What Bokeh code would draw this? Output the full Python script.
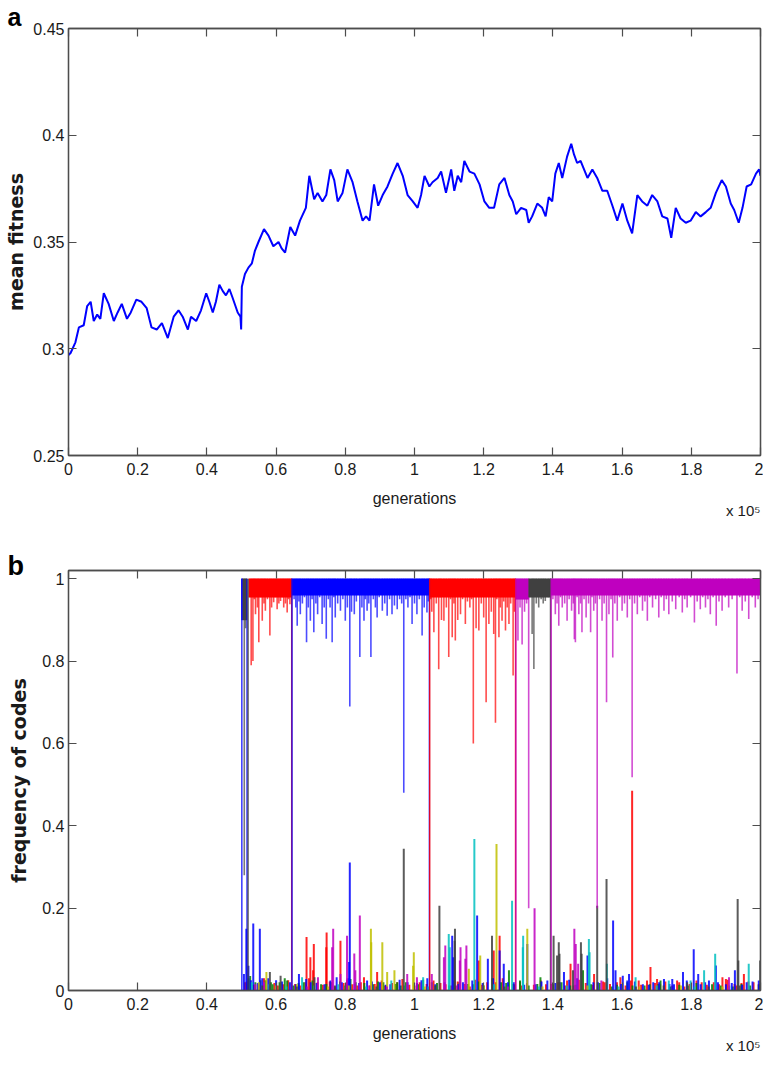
from bokeh.plotting import figure
from bokeh.layouts import column
from bokeh.models import (ColumnDataSource, LinearAxis, FixedTicker,
                          CustomJSTickFormatter, Range1d, Title)
from bokeh.embed import file_html
from bokeh.resources import INLINE

# ---------------- panel a: mean fitness (generations in units of 1e5) -------------
gen_a = [0.000, 0.006, 0.020, 0.030, 0.044, 0.054, 0.064, 0.073, 0.083, 0.092,
         0.102, 0.116, 0.131, 0.142, 0.154, 0.169, 0.180, 0.196, 0.211, 0.226,
         0.240, 0.255, 0.270, 0.287, 0.304, 0.318, 0.330, 0.345, 0.354, 0.369,
         0.383, 0.398, 0.407, 0.417, 0.426, 0.436, 0.446, 0.455, 0.465, 0.474,
         0.489, 0.497, 0.499, 0.501, 0.510, 0.520, 0.530, 0.539, 0.549, 0.565,
         0.578, 0.592, 0.607, 0.616, 0.626, 0.641, 0.655, 0.669, 0.686, 0.696,
         0.710, 0.720, 0.734, 0.745, 0.757, 0.768, 0.778, 0.792, 0.806, 0.821,
         0.835, 0.850, 0.860, 0.870, 0.883, 0.895, 0.908, 0.922, 0.937, 0.951,
         0.966, 0.980, 0.995, 1.009, 1.019, 1.029, 1.043, 1.052, 1.067, 1.077,
         1.091, 1.106, 1.115, 1.125, 1.135, 1.144, 1.159, 1.173, 1.188, 1.202,
         1.216, 1.230, 1.245, 1.260, 1.274, 1.284, 1.294, 1.308, 1.323, 1.330,
         1.340, 1.355, 1.369, 1.379, 1.388, 1.398, 1.407, 1.417, 1.427, 1.441,
         1.453, 1.461, 1.470, 1.480, 1.500, 1.514, 1.528, 1.543, 1.557, 1.572,
         1.586, 1.601, 1.615, 1.629, 1.644, 1.658, 1.673, 1.687, 1.702, 1.716,
         1.731, 1.742, 1.755, 1.769, 1.784, 1.798, 1.813, 1.827, 1.842, 1.856,
         1.871, 1.888, 1.900, 1.914, 1.924, 1.937, 1.948, 1.960, 1.973, 1.987,
         1.996, 2.000]
fit_a = [0.297, 0.298, 0.303, 0.310, 0.311, 0.320, 0.322, 0.313, 0.316, 0.314,
         0.326, 0.321, 0.313, 0.317, 0.321, 0.314, 0.317, 0.323, 0.322, 0.319,
         0.310, 0.309, 0.312, 0.305, 0.315, 0.318, 0.315, 0.309, 0.315, 0.313,
         0.318, 0.326, 0.322, 0.317, 0.322, 0.330, 0.327, 0.325, 0.328, 0.324,
         0.317, 0.315, 0.309, 0.329, 0.335, 0.338, 0.340, 0.346, 0.350, 0.356,
         0.353, 0.348, 0.350, 0.347, 0.345, 0.357, 0.353, 0.360, 0.366, 0.381,
         0.370, 0.373, 0.369, 0.372, 0.384, 0.379, 0.369, 0.373, 0.384, 0.378,
         0.369, 0.360, 0.362, 0.360, 0.377, 0.367, 0.372, 0.376, 0.382, 0.387,
         0.381, 0.372, 0.369, 0.366, 0.372, 0.381, 0.376, 0.378, 0.380, 0.383,
         0.373, 0.384, 0.374, 0.381, 0.378, 0.388, 0.383, 0.382, 0.377, 0.369,
         0.366, 0.366, 0.377, 0.380, 0.372, 0.369, 0.363, 0.366, 0.365, 0.359,
         0.362, 0.368, 0.366, 0.362, 0.371, 0.369, 0.382, 0.387, 0.380, 0.390,
         0.396, 0.391, 0.387, 0.388, 0.380, 0.384, 0.380, 0.374, 0.374, 0.367,
         0.360, 0.368, 0.360, 0.354, 0.372, 0.369, 0.367, 0.372, 0.369, 0.362,
         0.361, 0.352, 0.366, 0.361, 0.359, 0.360, 0.364, 0.362, 0.364, 0.366,
         0.373, 0.379, 0.376, 0.368, 0.365, 0.359, 0.366, 0.376, 0.377, 0.382,
         0.384, 0.381]

# ---------------- ticks ----------------
x_tick_values = [0, 0.2, 0.4, 0.6, 0.8, 1, 1.2, 1.4, 1.6, 1.8, 2]
x_tick_labels = ["0", "0.2", "0.4", "0.6", "0.8", "1", "1.2", "1.4", "1.6", "1.8", "2"]
ya_tick_values = [0.25, 0.3, 0.35, 0.4, 0.45]
ya_tick_labels = ["0.25", "0.3", "0.35", "0.4", "0.45"]
yb_tick_values = [0, 0.2, 0.4, 0.6, 0.8, 1]
yb_tick_labels = ["0", "0.2", "0.4", "0.6", "0.8", "1"]

# ---------------- panel b: frequency of codes ----------------
# periods in which one code dominates (frequency close to 1)
dom_start = [0.500, 0.503, 0.521, 0.645, 1.043, 1.292, 1.330, 1.394]
dom_end   = [0.503, 0.516, 0.645, 1.043, 1.292, 1.330, 1.394, 2.000]
dom_code  = ["blue", "black", "red", "blue", "red", "magenta", "black", "magenta"]
dom_floor = [0.90, 0.90, 0.955, 0.96, 0.955, 0.95, 0.955, 0.96]

# takeovers: one code falls from 1 to 0 while another rises
trans_gen  = [0.501, 0.516, 0.519, 0.645, 0.646, 1.043, 1.044, 1.292, 1.293, 1.393, 1.395]
trans_code = ["blue", "blue", "black", "red", "blue", "blue", "red", "red", "magenta", "black", "magenta"]

# dips of the dominant code below 1
dip_red_gen = [0.528, 0.533, 0.5405, 0.550, 0.560, 0.569, 0.582, 0.593, 0.603, 0.613, 0.622, 0.632, 0.640,
               0.537, 0.546, 0.556, 0.565, 0.575, 0.587, 0.598, 0.608, 0.618, 0.627, 0.636,
               1.050, 1.056, 1.070, 1.078, 1.085, 1.099, 1.109, 1.118, 1.125, 1.133, 1.147, 1.160,
               1.170, 1.178, 1.186, 1.200, 1.207, 1.215, 1.222, 1.229, 1.234, 1.244, 1.253, 1.263,
               1.273, 1.285, 1.047, 1.063, 1.074, 1.092, 1.104, 1.114, 1.139, 1.153, 1.165, 1.193,
               1.238, 1.248, 1.258, 1.268, 1.278, 1.289]
dip_red_val = [0.79, 0.80, 0.914, 0.846, 0.898, 0.922, 0.862, 0.943, 0.926, 0.946, 0.93, 0.918, 0.938,
               0.95, 0.93, 0.955, 0.94, 0.95, 0.93, 0.955, 0.94, 0.955, 0.94, 0.95,
               0.92, 0.87, 0.78, 0.90, 0.898, 0.81, 0.858, 0.85, 0.90, 0.914, 0.89, 0.93,
               0.60, 0.88, 0.874, 0.906, 0.70, 0.89, 0.92, 0.866, 0.65, 0.858, 0.898, 0.874,
               0.89, 0.765, 0.95, 0.94, 0.955, 0.93, 0.95, 0.94, 0.95, 0.945, 0.95, 0.94,
               0.95, 0.93, 0.945, 0.93, 0.94, 0.92]
dip_blue_gen = [0.661, 0.670, 0.688, 0.699, 0.709, 0.720, 0.733, 0.745, 0.762, 0.771, 0.786, 0.800,
                0.813, 0.826, 0.842, 0.854, 0.863, 0.874, 0.892, 0.907, 0.921, 0.935, 0.950, 0.969,
                0.993, 1.007, 1.022, 1.036,
                0.652, 0.657, 0.666, 0.676, 0.682, 0.693, 0.704, 0.715, 0.726, 0.739, 0.751, 0.756,
                0.767, 0.778, 0.793, 0.806, 0.818, 0.832, 0.848, 0.858, 0.868, 0.881, 0.887, 0.898,
                0.914, 0.928, 0.942, 0.957, 0.963, 0.975, 0.981, 0.987, 1.000, 1.014, 1.028, 1.040]
dip_blue_val = [0.886, 0.914, 0.846, 0.898, 0.870, 0.914, 0.890, 0.854, 0.846, 0.906, 0.922, 0.898,
                0.69, 0.914, 0.81, 0.898, 0.922, 0.81, 0.906, 0.922, 0.910, 0.914, 0.926, 0.48,
                0.89, 0.914, 0.862, 0.918,
                0.95, 0.93, 0.945, 0.94, 0.955, 0.93, 0.95, 0.94, 0.955, 0.93, 0.95, 0.93,
                0.955, 0.94, 0.95, 0.93, 0.92, 0.945, 0.93, 0.95, 0.94, 0.95, 0.93, 0.955,
                0.94, 0.95, 0.935, 0.95, 0.94, 0.95, 0.93, 0.955, 0.94, 0.95, 0.93, 0.945]
dip_black_gen = [0.508, 0.512, 1.340, 1.345, 1.352, 1.359, 1.366, 1.372, 1.378, 1.387]
dip_black_val = [0.28, 0.88, 0.866, 0.781, 0.94, 0.93, 0.95, 0.94, 0.946, 0.955]
dip_magenta_gen = [1.299, 1.305, 1.311, 1.318, 1.324, 1.330,
                   1.407, 1.417, 1.427, 1.441, 1.454, 1.462, 1.465, 1.475, 1.484, 1.496, 1.509, 1.518,
                   1.528, 1.542, 1.555, 1.562, 1.573, 1.586, 1.600, 1.615, 1.629, 1.644, 1.659, 1.673,
                   1.688, 1.706, 1.721, 1.735, 1.755, 1.774, 1.788, 1.809, 1.826, 1.841, 1.855, 1.872,
                   1.889, 1.908, 1.932, 1.947, 1.966, 1.985,
                   1.400, 1.412, 1.422, 1.434, 1.447, 1.459, 1.470, 1.480, 1.490, 1.503, 1.513, 1.523,
                   1.535, 1.548, 1.568, 1.579, 1.593, 1.607, 1.622, 1.636, 1.651, 1.666, 1.680, 1.697,
                   1.713, 1.728, 1.745, 1.765, 1.781, 1.798, 1.817, 1.833, 1.848, 1.863, 1.880, 1.898,
                   1.918, 1.940, 1.956, 1.976, 1.993]
dip_magenta_val = [0.85, 0.93, 0.84, 0.92, 0.94, 0.20,
                   0.914, 0.886, 0.930, 0.898, 0.922, 0.853, 0.846, 0.914, 0.870, 0.906, 0.870, 0.922,
                   0.20, 0.898, 0.70, 0.914, 0.809, 0.898, 0.922, 0.906, 0.518, 0.914, 0.922, 0.898,
                   0.930, 0.906, 0.922, 0.914, 0.926, 0.918, 0.930, 0.894, 0.926, 0.930, 0.914, 0.886,
                   0.922, 0.930, 0.77, 0.922, 0.902, 0.930,
                   0.95, 0.94, 0.955, 0.94, 0.95, 0.94, 0.955, 0.94, 0.95, 0.94, 0.955, 0.94,
                   0.95, 0.94, 0.95, 0.94, 0.955, 0.94, 0.95, 0.94, 0.955, 0.945, 0.955, 0.95,
                   0.955, 0.95, 0.945, 0.955, 0.95, 0.955, 0.945, 0.955, 0.95, 0.955, 0.945, 0.955,
                   0.95, 0.955, 0.945, 0.955, 0.95]

# rare codes: spikes rising from 0
spk_blue_gen = [0.514, 0.534, 0.553, 0.666, 0.775, 0.811, 0.813, 0.863, 1.109, 1.112, 1.181, 1.212,
                1.246, 1.258, 1.326, 1.384, 1.432, 1.500, 1.574, 1.581, 1.602, 1.615, 1.620, 1.721,
                1.745, 1.776, 1.807, 1.820, 1.851, 1.871, 1.926, 1.995,
                0.520, 0.560, 0.600, 0.640, 0.700, 0.740, 0.790, 0.840, 0.900, 0.930, 0.980, 1.020,
                1.060, 1.140, 1.270, 1.350, 1.420, 1.470, 1.530, 1.660, 1.690, 1.750, 1.840, 1.900, 1.960,
                0.507, 0.527, 0.547, 0.577, 0.617, 0.657, 0.687, 0.717, 0.757, 0.807, 0.827, 0.877,
                0.917, 0.957, 1.007, 1.037, 1.087, 1.127, 1.167, 1.197, 1.227, 1.287, 1.317, 1.367,
                1.407, 1.447, 1.517, 1.557, 1.597, 1.637, 1.677, 1.707, 1.737, 1.787, 1.827, 1.877,
                1.917, 1.947, 1.977]
spk_blue_h = [0.15, 0.163, 0.150, 0.04, 0.032, 0.069, 0.311, 0.024, 0.133, 0.081, 0.182, 0.077,
              0.097, 0.065, 0.113, 0.024, 0.045, 0.085, 0.17, 0.049, 0.036, 0.024, 0.04, 0.028,
              0.028, 0.045, 0.10, 0.04, 0.024, 0.061, 0.049, 0.024,
              0.06, 0.03, 0.025, 0.02, 0.02, 0.015, 0.02, 0.018, 0.02, 0.015, 0.02, 0.025,
              0.015, 0.02, 0.02, 0.015, 0.02, 0.03, 0.02, 0.015, 0.02, 0.015, 0.02, 0.015, 0.02,
              0.04, 0.025, 0.018, 0.03, 0.022, 0.015, 0.028, 0.018, 0.024, 0.03, 0.016, 0.022,
              0.014, 0.026, 0.018, 0.03, 0.02, 0.016, 0.024, 0.018, 0.03, 0.02, 0.014, 0.022,
              0.018, 0.026, 0.02, 0.03, 0.016, 0.022, 0.014, 0.02, 0.016, 0.024, 0.015, 0.02,
              0.018, 0.014, 0.022]
spk_red_gen = [0.688, 0.699, 0.707, 0.709, 0.745, 0.746, 0.786, 0.854, 0.892, 1.186, 1.229, 1.246,
               1.441, 1.451, 1.519, 1.595, 1.629, 1.648, 1.672, 1.682, 1.701, 1.759, 1.890, 1.900, 1.952,
               0.510, 0.550, 0.580, 0.620, 0.670, 0.720, 0.770, 0.820, 0.870, 0.950, 1.000, 1.090,
               1.160, 1.210, 1.310, 1.380, 1.460, 1.550, 1.610, 1.710, 1.780, 1.830, 1.880, 1.930, 1.980,
               0.515, 0.535, 0.565, 0.595, 0.605, 0.635, 0.655, 0.685, 0.695, 0.735, 0.755, 0.795,
               0.805, 0.835, 0.845, 0.885, 0.905, 0.915, 0.935, 0.965, 0.985, 1.015, 1.035, 1.055,
               1.075, 1.105, 1.125, 1.145, 1.175, 1.195, 1.235, 1.255, 1.285, 1.305, 1.325, 1.345,
               1.365, 1.395, 1.415, 1.435, 1.475, 1.495, 1.515, 1.545, 1.565, 1.585, 1.625, 1.655,
               1.695, 1.725, 1.745, 1.765, 1.795, 1.815, 1.845, 1.865, 1.905, 1.925, 1.945, 1.965, 1.995]
spk_red_h = [0.13, 0.081, 0.049, 0.113, 0.105, 0.141, 0.121, 0.032, 0.045, 0.073, 0.097, 0.133,
             0.024, 0.065, 0.04, 0.032, 0.485, 0.024, 0.024, 0.057, 0.028, 0.024, 0.032, 0.028, 0.04,
             0.02, 0.015, 0.01, 0.015, 0.012, 0.02, 0.01, 0.015, 0.012, 0.02, 0.012, 0.015,
             0.01, 0.02, 0.012, 0.015, 0.012, 0.02, 0.012, 0.015, 0.01, 0.02, 0.015, 0.012, 0.02,
             0.022, 0.014, 0.03, 0.018, 0.012, 0.025, 0.016, 0.02, 0.03, 0.014, 0.022, 0.018,
             0.026, 0.012, 0.02, 0.016, 0.024, 0.012, 0.018, 0.028, 0.014, 0.02, 0.016, 0.024,
             0.018, 0.012, 0.022, 0.016, 0.026, 0.014, 0.02, 0.03, 0.016, 0.022, 0.018, 0.014,
             0.024, 0.016, 0.02, 0.012, 0.026, 0.018, 0.014, 0.022, 0.016, 0.02, 0.024, 0.014,
             0.018, 0.022, 0.012, 0.02, 0.016, 0.024, 0.014, 0.02, 0.026, 0.016, 0.018, 0.022, 0.016]
spk_green_gen = [0.632, 0.950, 1.273, 1.364, 1.487, 1.711,
                 0.520, 0.540, 0.570, 0.590, 0.610, 0.650, 0.680, 0.730, 0.760, 0.800, 0.830, 0.880,
                 0.910, 0.960, 1.010, 1.050, 1.100, 1.130, 1.170, 1.200, 1.250, 1.290, 1.330, 1.400,
                 1.450, 1.510, 1.570, 1.630, 1.680, 1.740, 1.790, 1.860, 1.920, 1.970,
                 0.525, 0.555, 0.585, 0.625, 0.665, 0.705, 0.745, 0.785, 0.815, 0.855, 0.895, 0.945,
                 0.975, 1.025, 1.065, 1.115, 1.155, 1.185, 1.225, 1.265, 1.305, 1.355, 1.425, 1.465,
                 1.535, 1.585, 1.615, 1.665, 1.705, 1.765, 1.815, 1.885, 1.945, 1.995]
spk_green_h = [0.024, 0.02, 0.049, 0.032, 0.049, 0.024,
               0.03, 0.02, 0.025, 0.015, 0.02, 0.012, 0.02, 0.015, 0.02, 0.012, 0.02, 0.015,
               0.02, 0.012, 0.015, 0.02, 0.012, 0.02, 0.015, 0.012, 0.02, 0.015, 0.012, 0.015,
               0.012, 0.015, 0.01, 0.012, 0.015, 0.01, 0.012, 0.015, 0.01, 0.012,
               0.035, 0.025, 0.02, 0.03, 0.018, 0.024, 0.016, 0.022, 0.028, 0.018, 0.022, 0.016,
               0.02, 0.026, 0.018, 0.024, 0.016, 0.022, 0.03, 0.018, 0.024, 0.016, 0.02, 0.014,
               0.018, 0.014, 0.02, 0.012, 0.016, 0.014, 0.018, 0.012, 0.016, 0.014]
spk_cyan_gen = [0.675, 0.933, 1.025, 1.099, 1.102, 1.173, 1.282, 1.313, 1.314, 1.504, 1.506, 1.556,
                1.639, 1.735, 1.798, 1.837, 1.869, 1.966,
                0.530, 0.580, 0.630, 0.710, 0.780, 0.860, 0.970, 1.040, 1.150, 1.230, 1.360, 1.440,
                1.590, 1.700, 1.810, 1.910]
spk_cyan_h = [0.032, 0.024, 0.032, 0.137, 0.105, 0.368, 0.218, 0.105, 0.133, 0.125, 0.093, 0.065,
              0.032, 0.024, 0.024, 0.049, 0.089, 0.065,
              0.02, 0.015, 0.01, 0.012, 0.015, 0.01, 0.012, 0.01, 0.012, 0.015, 0.01, 0.012,
              0.01, 0.012, 0.01, 0.012]
spk_magenta_gen = [0.565, 0.721, 0.762, 0.765, 0.786, 0.805, 0.826, 0.829, 0.842, 0.979, 1.007, 1.050,
                   1.085, 1.089, 1.131, 1.133, 1.147, 1.150, 1.347, 1.462, 1.466, 1.473, 1.540, 1.909,
                   0.540, 0.690, 0.870, 0.920, 1.120, 1.270]
spk_magenta_h = [0.02, 0.032, 0.105, 0.150, 0.04, 0.133, 0.09, 0.049, 0.182, 0.04, 0.032, 0.04,
                 0.081, 0.109, 0.073, 0.105, 0.077, 0.109, 0.2, 0.15, 0.113, 0.065, 0.024, 0.032,
                 0.015, 0.01, 0.012, 0.01, 0.012, 0.01]
spk_yellow_gen = [0.572, 0.874, 0.875, 0.907, 0.921, 0.942, 0.996, 0.998, 1.157, 1.190, 1.237, 1.326,
                  0.550, 0.600, 0.660, 0.750, 0.810, 1.030, 1.200, 1.370, 1.500, 1.650, 1.770, 1.890]
spk_yellow_h = [0.045, 0.15, 0.117, 0.117, 0.045, 0.049, 0.06, 0.093, 0.053, 0.085, 0.356, 0.15,
                0.02, 0.012, 0.015, 0.01, 0.012, 0.01, 0.012, 0.01, 0.012, 0.01, 0.012, 0.01]
spk_black_gen = [0.582, 0.613, 0.711, 0.969, 1.072, 1.116, 1.117, 1.224, 1.402, 1.412, 1.417, 1.419,
                 1.458, 1.481, 1.483, 1.528, 1.555, 1.788, 1.934, 1.936, 1.999,
                 0.560, 0.660, 0.770, 0.890, 1.060, 1.260, 1.640, 1.720, 1.850, 1.940]
spk_black_h = [0.045, 0.036, 0.032, 0.344, 0.206, 0.121, 0.15, 0.133, 0.133, 0.085, 0.117, 0.089,
               0.049, 0.117, 0.089, 0.206, 0.271, 0.02, 0.222, 0.073, 0.073,
               0.012, 0.01, 0.012, 0.01, 0.012, 0.01, 0.01, 0.012, 0.01, 0.012]

COLORS = {"blue": "#0000ff", "green": "#008000", "red": "#ff0000", "cyan": "#00bfbf",
          "magenta": "#bf00bf", "yellow": "#bfbf00", "black": "#404040"}

TICK_FONT = "Liberation Sans"
LABEL_FONT = "DejaVu Sans"
FRAME = "#4d4d4d"
TEXT = "#1a1a1a"


def fmt(values, labels):
    return CustomJSTickFormatter(args=dict(vals=values, labs=labels), code="""
        for (let i = 0; i < vals.length; i++) {
            if (Math.abs(vals[i] - tick) < 1e-9) { return labs[i]; }
        }
        return '';
    """)


def box_axis(ticks):
    return LinearAxis(ticker=FixedTicker(ticks=ticks), major_label_text_font_size="0px",
                      major_label_text_color=None, major_label_standoff=0,
                      major_tick_in=8, major_tick_out=0, minor_tick_line_color=None,
                      axis_line_color=FRAME, axis_line_width=1.3,
                      major_tick_line_color=FRAME, major_tick_line_width=1.2)


def style(p, yvals, ylabs, ylabel, ylabel_standoff, letter, letter_size, letter_standoff):
    p.xaxis.ticker = FixedTicker(ticks=x_tick_values)
    p.xaxis.formatter = fmt(x_tick_values, x_tick_labels)
    p.yaxis.ticker = FixedTicker(ticks=yvals)
    p.yaxis.formatter = fmt(yvals, ylabs)
    p.xaxis.axis_label = "generations"
    p.yaxis.axis_label = ylabel
    for ax in (p.xaxis[0], p.yaxis[0]):
        ax.major_tick_in = 8
        ax.major_tick_out = 0
        ax.minor_tick_line_color = None
        ax.axis_line_color = FRAME
        ax.axis_line_width = 1.3
        ax.major_tick_line_color = FRAME
        ax.major_tick_line_width = 1.2
        ax.major_label_text_font = TICK_FONT
        ax.major_label_text_font_size = "16px"
        ax.major_label_text_color = TEXT
    p.xaxis.major_label_standoff = 7
    p.yaxis.major_label_standoff = 4
    p.xaxis.axis_label_text_font = TICK_FONT
    p.xaxis.axis_label_text_font_size = "16px"
    p.xaxis.axis_label_text_font_style = "normal"
    p.xaxis.axis_label_text_color = TEXT
    p.xaxis.axis_label_standoff = 12
    p.yaxis.axis_label_text_font = LABEL_FONT
    p.yaxis.axis_label_text_font_size = "19px"
    p.yaxis.axis_label_text_font_style = "bold"
    p.yaxis.axis_label_text_color = TEXT
    p.yaxis.axis_label_standoff = ylabel_standoff
    p.add_layout(box_axis(x_tick_values), "above")
    p.add_layout(box_axis(yvals), "right")
    p.outline_line_color = FRAME
    p.outline_line_width = 1.3
    p.xgrid.grid_line_color = None
    p.ygrid.grid_line_color = None
    p.background_fill_color = "white"
    p.border_fill_color = "white"
    # scale factor note under the x axis
    p.add_layout(Title(text="x 10\u2075", align="right", vertical_align="top",
                       text_font=TICK_FONT, text_font_size="15px", text_font_style="normal",
                       text_color=TEXT, standoff=-16), "below")
    # panel letter at the top-left corner
    p.add_layout(Title(text=letter, align="left", vertical_align="bottom", offset=-61,
                       text_font="Liberation Sans", text_font_size=letter_size,
                       text_font_style="bold", text_color="black",
                       standoff=letter_standoff), "above")


# ---------- figure a ----------
pa = figure(width=763, height=538, output_backend="svg", toolbar_location=None,
            x_range=Range1d(0, 2), y_range=Range1d(0.25, 0.45),
            min_border_left=68, min_border_right=3, min_border_top=28, min_border_bottom=83)
pa.line(gen_a, fit_a, line_color="#0000ff", line_width=2)
style(pa, ya_tick_values, ya_tick_labels, "mean fitness", 3, "a", "25px", -4)

# ---------- figure b ----------
pb = figure(width=763, height=532, output_backend="svg", toolbar_location=None,
            x_range=Range1d(0, 2), y_range=Range1d(0, 1.02),
            min_border_left=68, min_border_right=3, min_border_top=32, min_border_bottom=80)

spikes = {"red": (spk_red_gen, spk_red_h), "green": (spk_green_gen, spk_green_h),
          "blue": (spk_blue_gen, spk_blue_h), "cyan": (spk_cyan_gen, spk_cyan_h),
          "yellow": (spk_yellow_gen, spk_yellow_h), "magenta": (spk_magenta_gen, spk_magenta_h),
          "black": (spk_black_gen, spk_black_h)}
for code, (g, h) in spikes.items():
    src = ColumnDataSource(dict(x=g, y0=[0] * len(g), y1=h))
    pb.segment(x0="x", y0="y0", x1="x", y1="y1", source=src,
               line_color=COLORS[code], line_width=2.0, line_alpha=0.85)

dips = {"red": (dip_red_gen, dip_red_val), "blue": (dip_blue_gen, dip_blue_val),
        "black": (dip_black_gen, dip_black_val), "magenta": (dip_magenta_gen, dip_magenta_val)}
for code, (g, v) in dips.items():
    src = ColumnDataSource(dict(x=g, y0=[1] * len(g), y1=v))
    pb.segment(x0="x", y0="y0", x1="x", y1="y1", source=src,
               line_color=COLORS[code], line_width=1.6, line_alpha=0.7)

band_src = ColumnDataSource(dict(left=dom_start, right=dom_end, bottom=dom_floor,
                                 top=[1] * len(dom_start),
                                 color=[COLORS[c] for c in dom_code]))
pb.quad(left="left", right="right", bottom="bottom", top="top", source=band_src,
        fill_color="color", line_color="color", line_width=0.5)

trans_src = ColumnDataSource(dict(x=trans_gen, y0=[0] * len(trans_gen), y1=[1] * len(trans_gen),
                                  color=[COLORS[c] for c in trans_code]))
pb.segment(x0="x", y0="y0", x1="x", y1="y1", source=trans_src,
           line_color="color", line_width=1.4, line_alpha=0.85)

style(pb, yb_tick_values, yb_tick_labels, "frequency of codes", 9, "b", "27px", -20)

layout = column(pa, pb, spacing=0)
open("out.html", "w").write(file_html(layout, INLINE))
